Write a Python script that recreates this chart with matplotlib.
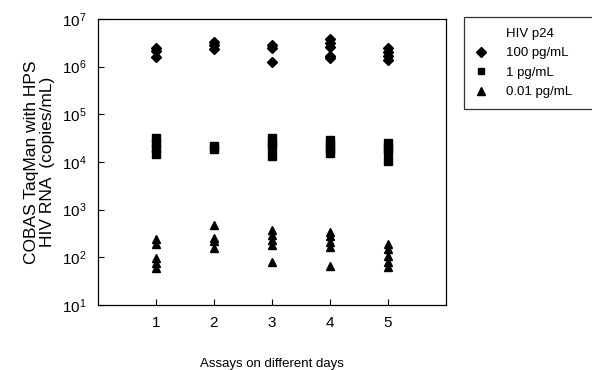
import numpy as np
import matplotlib
matplotlib.use("Agg")
import matplotlib.pyplot as plt
from matplotlib.lines import Line2D

plt.rcParams['font.family'] = ['Liberation Sans', 'DejaVu Sans']

# day index and measured copies/mL for each HIV p24 level
days = [1, 2, 3, 4, 5]
hi_day = [1, 1, 1, 2, 2, 2, 3, 3, 3, 4, 4, 4, 4, 4, 5, 5, 5, 5]
hi_val = [2.5e6, 2.1e6, 1.6e6, 3.3e6, 2.8e6, 2.4e6, 2.8e6, 2.5e6, 1.26e6,
          3.8e6, 3.2e6, 2.6e6, 1.7e6, 1.5e6, 2.5e6, 2.0e6, 1.7e6, 1.4e6]
mid_day = [1, 1, 1, 1, 2, 2, 3, 3, 3, 3, 4, 4, 4, 4, 5, 5, 5, 5]
mid_val = [3.2e4, 2.5e4, 1.96e4, 1.5e4, 2.2e4, 1.9e4, 3.2e4, 2.5e4, 2.1e4, 1.35e4,
           2.9e4, 2.3e4, 1.9e4, 1.55e4, 2.5e4, 2.0e4, 1.65e4, 1.05e4]
lo_day = [1, 1, 1, 1, 1, 2, 2, 2, 2, 3, 3, 3, 3, 3, 4, 4, 4, 4, 4, 5, 5, 5, 5, 5]
lo_val = [240, 190, 95, 75, 60, 480, 260, 220, 160, 375, 295, 230, 182, 80,
          340, 280, 210, 165, 66, 190, 150, 105, 80, 62]

fig = plt.figure(figsize=(5.92, 3.70), dpi=100)
ax = fig.add_axes([98/592, 1-305/370, (446-98)/592, (305-19)/370])

ax.plot(hi_day, hi_val, linestyle='none', marker='D', ms=5, color='black')
ax.plot(mid_day, mid_val, linestyle='none', marker='s', ms=5.5, color='black')
ax.plot(lo_day, lo_val, linestyle='none', marker='^', ms=6, color='black')

ax.set_yscale('log')
ax.set_ylim(10, 1e7)
ax.set_xlim(0, 6)
ax.set_xticks(days)
ax.set_yticks([10**k for k in range(1, 8)])
ax.yaxis.set_minor_locator(matplotlib.ticker.NullLocator())
ax.tick_params(direction='in', length=4, labelsize=11, pad=8)
for s in ax.spines.values():
    s.set_linewidth(0.9)

ax.set_xlabel('Assays on different days', fontsize=9.5, labelpad=20)
ax.set_ylabel('COBAS TaqMan with HPS\nHIV RNA  (copies/mL)', fontsize=12.5,
              labelpad=5, linespacing=1.1)

handles = [Line2D([], [], linestyle='none', marker=None),
           Line2D([], [], linestyle='none', marker='D', ms=5, color='black'),
           Line2D([], [], linestyle='none', marker='s', ms=5, color='black'),
           Line2D([], [], linestyle='none', marker='^', ms=5.5, color='black')]
labels = ['HIV p24', '100 pg/mL', '1 pg/mL', '0.01 pg/mL']
leg = fig.legend(handles, labels, loc='upper left',
                 bbox_to_anchor=(464/592, 0, 140/592, 1-17/370),
                 bbox_transform=fig.transFigure, mode='expand', frameon=True,
                 fancybox=False, fontsize=9.5, handlelength=1.0, handletextpad=1.4,
                 labelspacing=0.55, borderpad=0.8, borderaxespad=0)
leg.get_frame().set_edgecolor('black')
leg.get_frame().set_linewidth(0.9)

fig.savefig('out.png', dpi=100)
